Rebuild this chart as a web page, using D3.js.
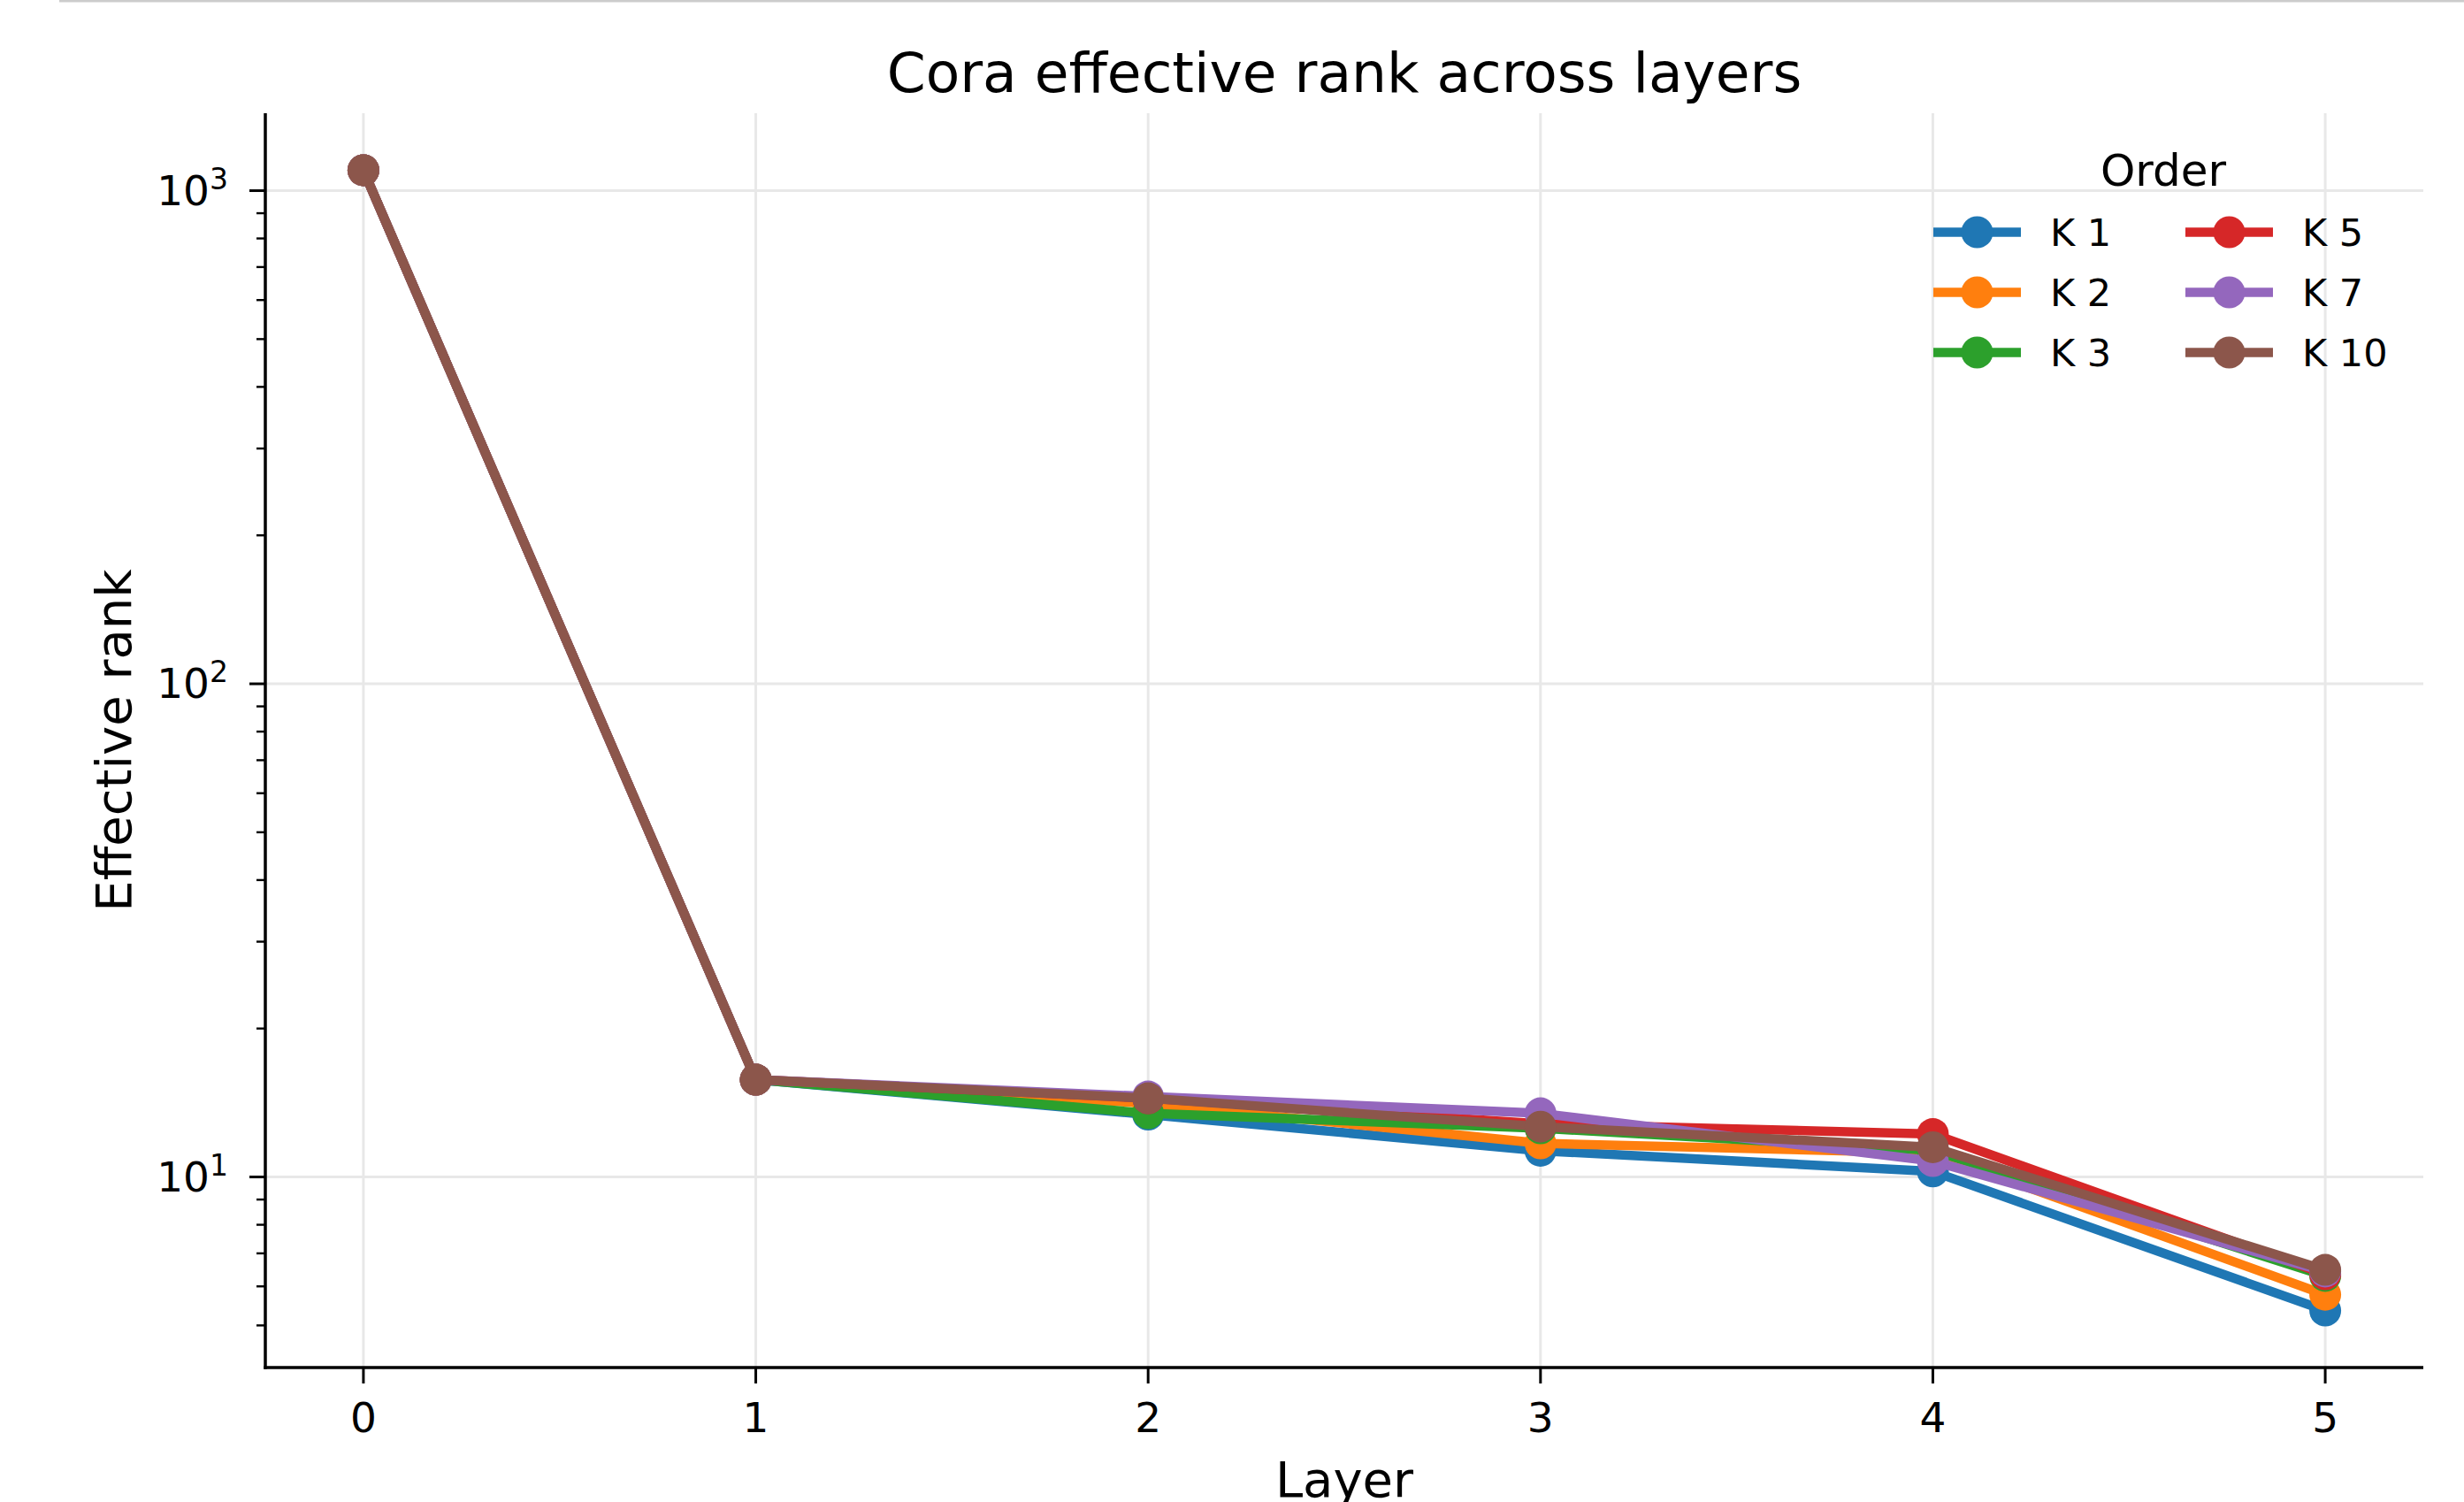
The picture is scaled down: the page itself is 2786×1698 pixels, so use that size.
<!DOCTYPE html>
<html>
<head>
<meta charset="utf-8">
<script src="https://cdn.jsdelivr.net/npm/d3@7"></script>
<style>
  html, body { margin: 0; padding: 0; background: #fff; }
  svg { display: block; font-family: "DejaVu Sans", sans-serif; }
</style>
</head>
<body>
<svg id="chart" width="2786" height="1698"></svg>
<script>
// data
const layers = [0, 1, 2, 3, 4, 5];
const seriesNames = ["K 1", "K 2", "K 3", "K 5", "K 7", "K 10"];
const k1 = [1100, 15.75, 13.38, 11.30, 10.26, 5.36];
const k2 = [1100, 15.75, 14.10, 11.70, 11.18, 5.77];
const k3 = [1100, 15.75, 13.46, 12.55, 11.32, 6.30];
const k5 = [1100, 15.75, 14.44, 12.81, 12.22, 6.35];
const k7 = [1100, 15.75, 14.56, 13.46, 10.77, 6.43];
const k10 = [1100, 15.75, 14.44, 12.65, 11.49, 6.48];
const seriesValues = [k1, k2, k3, k5, k7, k10];
const colors = ["#1f77b4", "#ff7f0e", "#2ca02c", "#d62728", "#9467bd", "#8c564b"];
const xTicks = [0, 1, 2, 3, 4, 5];
const yTicks = [10, 100, 1000];

const svg = d3.select("#chart");
const W = 2786, H = 1698;
const plot = {left: 300, right: 2740, top: 128, bottom: 1546};

// thin grey line at the very top of the image
svg.append("line")
    .attr("x1", 67).attr("x2", W).attr("y1", 1).attr("y2", 1)
    .attr("stroke", "#cccccc").attr("stroke-width", 3);

// scales (matplotlib-like 5% margins)
const x = d3.scaleLinear().domain([-0.25, 5.25]).range([plot.left, plot.right]);
const allVals = seriesValues.flat();
const lmin = Math.log10(d3.min(allVals)), lmax = Math.log10(d3.max(allVals));
const pad = (lmax - lmin) * 0.05;
const y = d3.scaleLog()
    .domain([Math.pow(10, lmin - pad), Math.pow(10, lmax + pad)])
    .range([plot.bottom, plot.top]);

// grid
const grid = svg.append("g").attr("stroke", "#e8e8e8").attr("stroke-width", 3);
grid.selectAll("line.gx").data(xTicks).enter().append("line")
    .attr("x1", d => x(d)).attr("x2", d => x(d))
    .attr("y1", plot.top).attr("y2", plot.bottom);
grid.selectAll("line.gy").data(yTicks).enter().append("line")
    .attr("x1", plot.left).attr("x2", plot.right)
    .attr("y1", d => y(d)).attr("y2", d => y(d));

// series
const line = d3.line().x((d, i) => x(layers[i])).y(d => y(d));
seriesValues.forEach((vals, s) => {
    const g = svg.append("g");
    g.append("path")
        .datum(vals)
        .attr("d", line)
        .attr("fill", "none")
        .attr("stroke", colors[s])
        .attr("stroke-width", 10.5)
        .attr("stroke-linejoin", "round")
        .attr("stroke-linecap", "square");
    g.selectAll("circle").data(vals).enter().append("circle")
        .attr("cx", (d, i) => x(layers[i]))
        .attr("cy", d => y(d))
        .attr("r", 18)
        .attr("fill", colors[s]);
});

// x axis
const xAxis = svg.append("g");
xAxis.append("line")
    .attr("x1", plot.left - 1.75).attr("x2", plot.right)
    .attr("y1", plot.bottom).attr("y2", plot.bottom)
    .attr("stroke", "#000").attr("stroke-width", 3.5);
xAxis.selectAll("line.t").data(xTicks).enter().append("line")
    .attr("x1", d => x(d)).attr("x2", d => x(d))
    .attr("y1", plot.bottom).attr("y2", plot.bottom + 18)
    .attr("stroke", "#000").attr("stroke-width", 3);
xAxis.selectAll("text").data(xTicks).enter().append("text")
    .attr("x", d => x(d)).attr("y", 1619)
    .attr("text-anchor", "middle")
    .attr("font-size", 47)
    .text(d => d);

// y axis
const yAxis = svg.append("g");
yAxis.append("line")
    .attr("x1", plot.left).attr("x2", plot.left)
    .attr("y1", plot.top).attr("y2", plot.bottom + 1.75)
    .attr("stroke", "#000").attr("stroke-width", 3.5);
yAxis.selectAll("line.t").data(yTicks).enter().append("line")
    .attr("x1", plot.left - 18).attr("x2", plot.left)
    .attr("y1", d => y(d)).attr("y2", d => y(d))
    .attr("stroke", "#000").attr("stroke-width", 3);
const [d0, d1] = y.domain();
const minor = [];
for (let e = Math.floor(Math.log10(d0)); e <= Math.ceil(Math.log10(d1)); e++) {
    for (let m = 2; m <= 9; m++) {
        const v = m * Math.pow(10, e);
        if (v >= d0 && v <= d1) minor.push(v);
    }
}
yAxis.selectAll("line.m").data(minor).enter().append("line")
    .attr("x1", plot.left - 10).attr("x2", plot.left)
    .attr("y1", d => y(d)).attr("y2", d => y(d))
    .attr("stroke", "#000").attr("stroke-width", 2.4);
const yl = yAxis.selectAll("text").data(yTicks).enter().append("text")
    .attr("x", 258).attr("y", d => y(d) + 16)
    .attr("text-anchor", "end")
    .attr("font-size", 47);
yl.append("tspan").text("10");
yl.append("tspan").attr("dy", -18).attr("font-size", 33)
    .text(d => Math.round(Math.log10(d)));

// axis labels and title
svg.append("text")
    .attr("x", (plot.left + plot.right) / 2).attr("y", 1692)
    .attr("text-anchor", "middle").attr("font-size", 56)
    .text("Layer");
svg.append("text")
    .attr("transform", `translate(148,${(plot.top + plot.bottom) / 2}) rotate(-90)`)
    .attr("text-anchor", "middle").attr("font-size", 56)
    .text("Effective rank");
svg.append("text")
    .attr("x", (plot.left + plot.right) / 2).attr("y", 104)
    .attr("text-anchor", "middle").attr("font-size", 63)
    .text("Cora effective rank across layers");

// legend: two columns, three rows
const legend = svg.append("g");
legend.append("text")
    .attr("x", 2446).attr("y", 210)
    .attr("text-anchor", "middle").attr("font-size", 50)
    .text("Order");
const colX = [2186, 2471];
const rowY = [262.5, 330.5, 398.5];
seriesNames.forEach((name, i) => {
    const cx = colX[Math.floor(i / 3)], cy = rowY[i % 3];
    const item = legend.append("g");
    item.append("line")
        .attr("x1", cx).attr("x2", cx + 99)
        .attr("y1", cy).attr("y2", cy)
        .attr("stroke", colors[i]).attr("stroke-width", 10.5);
    item.append("circle")
        .attr("cx", cx + 49.5).attr("cy", cy).attr("r", 18)
        .attr("fill", colors[i]);
    item.append("text")
        .attr("x", cx + 132).attr("y", cy + 15.5)
        .attr("font-size", 43)
        .text(name);
});
</script>
</body>
</html>
